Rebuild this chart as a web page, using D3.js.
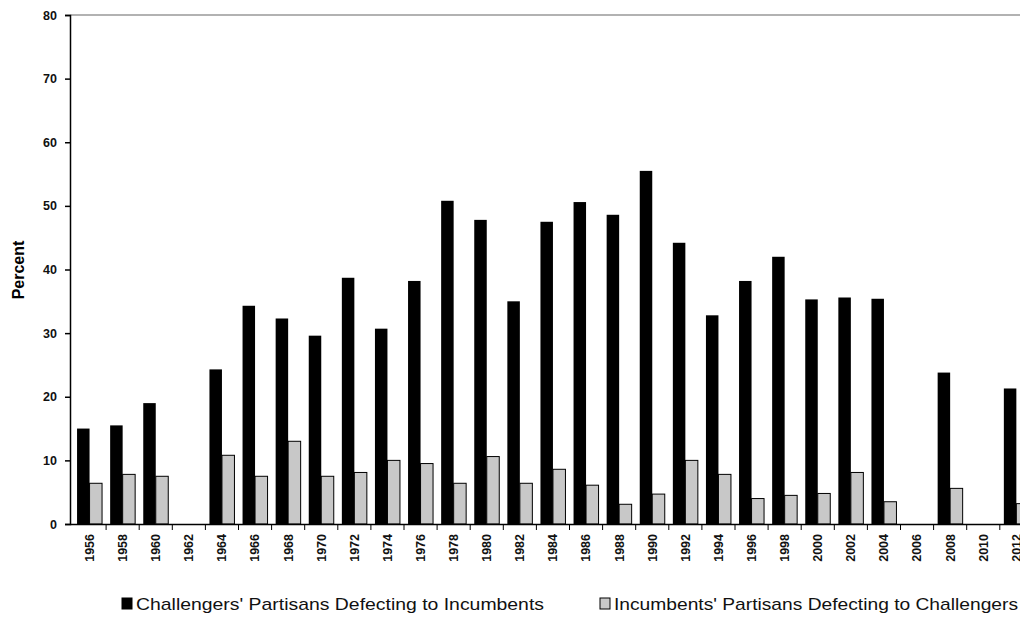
<!DOCTYPE html>
<html>
<head>
<style>
  body{margin:0;background:#fff;font-family:"Liberation Sans",Arial,sans-serif;}
  .tick text{font-weight:bold;font-size:12.5px;fill:#111;}
</style>
<script src="https://d3js.org/d3.v7.min.js"></script>
</head>
<body>
<svg width="1020" height="619"></svg>
<script>
const years = ['1956','1958','1960','1962','1964','1966','1968','1970','1972','1974','1976','1978','1980','1982','1984','1986','1988','1990','1992','1994','1996','1998','2000','2002','2004','2006','2008','2010','2012'];
const challengers = [15,15.5,19,null,24.3,34.3,32.3,29.6,38.7,30.7,38.2,50.8,47.8,35,47.5,50.6,48.6,55.5,44.2,32.8,38.2,42,35.3,35.6,35.4,null,23.8,null,21.3];
const incumbents = [6.4,7.8,7.5,null,10.8,7.5,13,7.5,8.1,10,9.5,6.4,10.6,6.4,8.6,6.1,3.1,4.7,10,7.8,4,4.5,4.8,8.1,3.5,null,5.6,null,3.2];
const yTicks = [0,10,20,30,40,50,60,70,80];

const svg = d3.select('svg');
const plotLeft = 70, plotTop = 15, plotBottom = 524;
const x = d3.scaleBand().domain(years).range([plotLeft + 3, plotLeft + 3 + 29*33.1]);
const y = d3.scaleLinear().domain([0,80]).range([plotBottom, plotTop]);

// top frame line
svg.append('line').attr('x1',plotLeft).attr('x2',1020).attr('y1',plotTop).attr('y2',plotTop)
  .attr('stroke','#999').attr('stroke-width',1.5);

const bw = 12.5;
years.forEach((yr,i)=>{
  const c = x(yr) + x.bandwidth()/2;
  if (challengers[i] != null)
    svg.append('rect').attr('x', c - bw).attr('width', bw).attr('y', y(challengers[i]))
      .attr('height', plotBottom - y(challengers[i])).attr('fill','#000');
  if (incumbents[i] != null)
    svg.append('rect').attr('x', c).attr('width', bw).attr('y', y(incumbents[i]))
      .attr('height', plotBottom - y(incumbents[i])).attr('fill','#c8c8c8').attr('stroke','#000').attr('stroke-width',1);
});

const ya = svg.append('g').attr('transform',`translate(${plotLeft},0)`)
  .call(d3.axisLeft(y).tickValues(yTicks).tickSize(5).tickPadding(8));
ya.select('.domain').attr('stroke','#000').attr('stroke-width',1.5);
ya.selectAll('.tick line').attr('stroke','#000').attr('stroke-width',1.5);

const xa = svg.append('g').attr('transform',`translate(0,${plotBottom})`)
  .call(d3.axisBottom(x).tickSize(6).tickSizeOuter(0));
xa.select('.domain').attr('stroke','#000').attr('stroke-width',1.5)
  .attr('d', `M${plotLeft},0.5H1020`);
xa.selectAll('.tick line').attr('stroke','#000').attr('transform',`translate(${x.bandwidth()/2},0)`);
xa.selectAll('.tick text').attr('transform','rotate(-90)').attr('text-anchor','end')
  .attr('x',-10).attr('y',0).attr('dy','0.35em');

svg.append('text').attr('transform','translate(24,270) rotate(-90)').attr('text-anchor','middle')
  .attr('font-weight','bold').attr('font-size',16).text('Percent');

const lg = [{label:"Challengers' Partisans Defecting to Incumbents", fill:'#000', x:122, w:408},
            {label:"Incumbents' Partisans Defecting to Challengers", fill:'#c8c8c8', x:600, w:404}];
lg.forEach(d=>{
  svg.append('rect').attr('x',d.x).attr('y',598).attr('width',10).attr('height',11)
    .attr('fill',d.fill).attr('stroke','#000');
  svg.append('text').attr('x',d.x+14).attr('y',610).attr('font-size',17).attr('fill','#111')
    .attr('textLength',d.w).attr('lengthAdjust','spacingAndGlyphs').text(d.label);
});
</script>
</body>
</html>
